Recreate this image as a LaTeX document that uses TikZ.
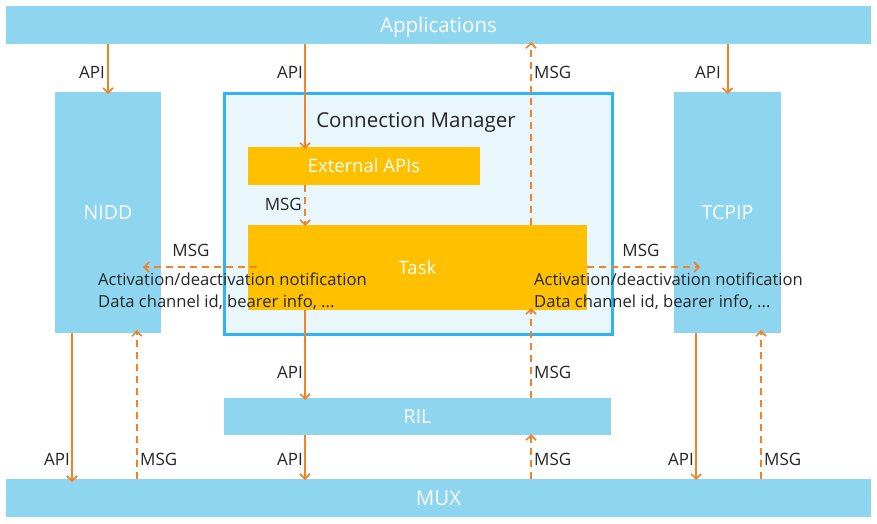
\documentclass[tikz,border=0pt]{standalone}
\usepackage{fontspec}
\setmainfont{Open Sans}
\usetikzlibrary{arrows.meta}
\definecolor{lb}{HTML}{8ED6F0}
\definecolor{org}{HTML}{F08228}
\definecolor{gold}{HTML}{FFC000}
\definecolor{cmb}{HTML}{2EB4F5}
\definecolor{cmf}{HTML}{E9F7FD}
\definecolor{txt}{HTML}{262626}
\begin{document}
\begin{tikzpicture}[x=1pt,y=-1pt,
  box/.style={anchor=north west,inner sep=0pt,outer sep=0pt,text=white,text height=14pt,text depth=0pt,font=\fontsize{19.5}{22}\selectfont},
  lbox/.style={box,fill=lb},
  gbox/.style={box,fill=gold,text height=13.3pt},
  lab/.style={text=txt,font=\fontsize{17}{20}\selectfont,inner sep=0pt},
  api/.style={draw=org,line width=2pt,-{Straight Barb[length=5pt,width=10pt,line width=1.6pt]}},
  msg/.style={api,dash pattern=on 7pt off 5pt}
]
\useasboundingbox (0,0) rectangle (877,524);
\fill[white] (0,0) rectangle (877,524);
% boxes
\node[lbox,minimum width=865,minimum height=38,font=\fontsize{20.5}{22}\selectfont,text height=14.7pt] (app) at (6,6) {Applications};
\node[lbox,minimum width=865,minimum height=38,font=\fontsize{20.5}{22}\selectfont,text height=14.7pt] (mux) at (6,479) {MUX};
\node[lbox,minimum width=106,minimum height=241] (nidd) at (55,92) {NIDD};
\node[lbox,minimum width=107,minimum height=241] (tcpip) at (674,92) {TCPIP};
\node[box,draw=cmb,line width=3pt,fill=cmf,minimum width=388,minimum height=240] (cm) at (224,94) {};
\node[text=txt,font=\fontsize{20.5}{22}\selectfont,inner sep=0pt,text height=14.7pt,text depth=0pt] (cmt) at (416,120) {Connection Manager};
\node[gbox,minimum width=232,minimum height=38,font=\fontsize{18.5}{20}\selectfont] (ext) at (248,147) {External APIs};
\node[gbox,minimum width=339,minimum height=85,font=\fontsize{18.5}{20}\selectfont] (task) at (248,225) {Task};
\node[lbox,minimum width=387,minimum height=37] (ril) at (224,398) {RIL};
% x positions
\coordinate (xa) at (305,0);
\coordinate (xm) at (531,0);
\coordinate (xn1) at (72,0);
\coordinate (xn2) at (137,0);
\coordinate (xt1) at (696,0);
\coordinate (xt2) at (761,0);
% top arrows
\draw[api] (app.south -| nidd.north) -- ([yshift=-2pt]nidd.north);
\draw[api] (app.south -| xa) -- ([yshift=-2pt]ext.north -| xa);
\draw[msg] (task.north -| xm) -- ([yshift=2pt]app.south -| xm);
\draw[api] (app.south -| tcpip.north) -- ([yshift=-2pt]tcpip.north);
\draw[msg] (ext.south -| xa) -- ([yshift=-1pt]task.north -| xa);
% side msg arrows
\coordinate (ly) at (0,267);
\draw[msg] (257,267) -- ([xshift=-18pt]nidd.east |- ly);
\draw[msg] (task.east |- ly) -- (700,267);
% lower
\draw[api] (task.south -| xa) -- ([yshift=-2pt]ril.north -| xa);
\draw[msg] (ril.north -| xm) -- ([yshift=2pt]task.south -| xm);
\draw[api] (ril.south -| xa) -- ([yshift=-1pt]mux.north -| xa);
\draw[msg] (mux.north -| xm) -- ([yshift=1pt]ril.south -| xm);
\draw[api] (nidd.south -| xn1) -- ([yshift=-3pt]mux.north -| xn1);
\draw[msg] (mux.north -| xn2) -- ([yshift=3pt]nidd.south -| xn2);
\draw[api] (tcpip.south -| xt1) -- ([yshift=-1pt]mux.north -| xt1);
\draw[msg] (mux.north -| xt2) -- ([yshift=3pt]tcpip.south -| xt2);
% labels
\node[lab,anchor=east] (l1) at (105,72) {API};
\node[lab,anchor=east] (l2) at (303,72) {API};
\node[lab,anchor=west] (l3) at (534,72) {MSG};
\node[lab,anchor=east] (l4) at (721,72) {API};
\node[lab,anchor=east] (l5) at (302,204) {MSG};
\node[lab] (l6) at (191,250) {MSG};
\node[lab] (l7) at (641,250) {MSG};
\node[lab,anchor=north west,align=left,font=\fontsize{16.6}{22}\selectfont] (n1) at (98,273) {Activation/deactivation notification\\Data channel id, bearer info, ...};
\node[lab,anchor=north west,align=left,font=\fontsize{16.6}{22}\selectfont] (n2) at (534,273) {Activation/deactivation notification\\Data channel id, bearer info, ...};
\node[lab,anchor=east] (l8) at (303,372) {API};
\node[lab,anchor=west] (l9) at (534,372) {MSG};
\node[lab,anchor=east] (l10) at (303,459) {API};
\node[lab,anchor=west] (l11) at (534,459) {MSG};
\node[lab,anchor=east] (l12) at (70,459) {API};
\node[lab,anchor=west] (l13) at (140,459) {MSG};
\node[lab,anchor=east] (l14) at (694,459) {API};
\node[lab,anchor=west] (l15) at (764,459) {MSG};
\end{tikzpicture}
\end{document}
